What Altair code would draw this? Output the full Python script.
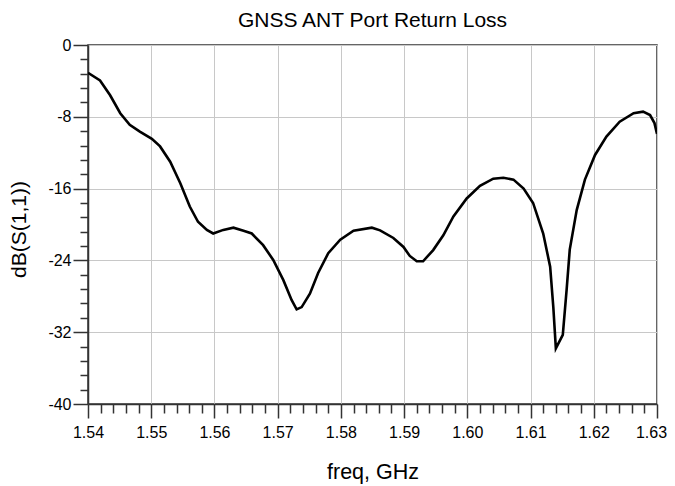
import altair as alt
import pandas as pd

freq_ghz = [1.5400, 1.5419, 1.5435, 1.5451, 1.5466, 1.5482, 1.5501, 1.5514, 1.5530, 1.5546,
            1.5561, 1.5574, 1.5588, 1.5598, 1.5614, 1.5630, 1.5646, 1.5659, 1.5677, 1.5693,
            1.5709, 1.5722, 1.5730, 1.5738, 1.5751, 1.5764, 1.5780, 1.5799, 1.5820, 1.5849,
            1.5862, 1.5883, 1.5899, 1.5909, 1.5920, 1.5930, 1.5946, 1.5962, 1.5978, 1.5999,
            1.6020, 1.6041, 1.6057, 1.6073, 1.6089, 1.6104, 1.6120, 1.6131, 1.6136, 1.6140,
            1.6151, 1.6157, 1.6162, 1.6173, 1.6186, 1.6202, 1.6220, 1.6241, 1.6263, 1.6278,
            1.6289, 1.6296, 1.6300]
s11_db = [-3.1, -3.95, -5.6, -7.6, -8.9, -9.66, -10.45, -11.3, -13.0, -15.4,
          -18.0, -19.7, -20.6, -21.0, -20.6, -20.35, -20.7, -21.0, -22.3, -23.95,
          -26.2, -28.4, -29.45, -29.2, -27.7, -25.4, -23.2, -21.7, -20.7, -20.35,
          -20.65, -21.5, -22.5, -23.5, -24.1, -24.1, -22.85, -21.2, -19.1, -17.1,
          -15.7, -14.9, -14.8, -15.0, -16.0, -17.6, -21.0, -24.7, -29.2, -33.8,
          -32.3, -27.3, -22.8, -18.4, -15.0, -12.25, -10.2, -8.55, -7.6, -7.43,
          -7.8, -8.7, -9.9]

x_major = [1.54, 1.55, 1.56, 1.57, 1.58, 1.59, 1.60, 1.61, 1.62, 1.63]
x_minor = [1.542, 1.544, 1.546, 1.548, 1.552, 1.554, 1.556, 1.558,
           1.562, 1.564, 1.566, 1.568, 1.572, 1.574, 1.576, 1.578,
           1.582, 1.584, 1.586, 1.588, 1.592, 1.594, 1.596, 1.598,
           1.602, 1.604, 1.606, 1.608, 1.612, 1.614, 1.616, 1.618,
           1.622, 1.624, 1.626, 1.628]
y_major = [0, -8, -16, -24, -32, -40]
y_minor = [-1.6, -3.2, -4.8, -6.4, -9.6, -11.2, -12.8, -14.4,
           -17.6, -19.2, -20.8, -22.4, -25.6, -27.2, -28.8, -30.4,
           -33.6, -35.2, -36.8, -38.4]

df = pd.DataFrame({"freq": freq_ghz, "db": s11_db})

FONT = "Liberation Sans"
AX = "#333333"

xscale = alt.Scale(domain=[1.54, 1.63], nice=False, zero=False)
yscale = alt.Scale(domain=[-40, 0], nice=False, zero=False)

main = alt.Chart(df).mark_line(color="black", strokeWidth=2.6, clip=True).encode(
    x=alt.X("freq:Q", scale=xscale, axis=alt.Axis(
        values=x_major, format=".2f", title="freq, GHz", grid=True, labelFlush=False,
        labelOffset={"condition": {"test": "datum.value > 1.629", "value": -6}, "value": 0},
        gridColor="#c8c8c8", gridWidth=1, tickSize=14, tickWidth=1.5, tickColor=AX,
        domainColor=AX, domainWidth=1.5, labelFont=FONT, labelFontSize=16,
        labelColor="black", labelPadding=6, titleFont=FONT, titleFontSize=21.5,
        titleFontWeight="normal", titleColor="black", titleY=74,
        titleBaseline="alphabetic", orient="bottom")),
    y=alt.Y("db:Q", scale=yscale, axis=alt.Axis(
        values=y_major, labelExpr="toString(datum.value)", title="dB(S(1,1))",
        grid=True, gridColor="#c8c8c8", gridWidth=1, tickSize=15, tickWidth=1.5,
        tickColor=AX, domainColor=AX, domainWidth=1.5, labelFont=FONT,
        labelFontSize=16, labelColor="black", labelPadding=2, titleFont=FONT,
        titleFontSize=21, titleFontWeight="normal", titleColor="black",
        titleX=-63, titleY=184, titleAngle=270, titleAlign="center",
        titleBaseline="alphabetic", orient="left")),
)

minor = alt.Chart(df).mark_line(strokeOpacity=0).encode(
    x=alt.X("freq:Q", scale=xscale, axis=alt.Axis(
        values=x_minor, labels=False, title=None, grid=False, domain=False,
        tickSize=9, tickWidth=1.5, tickColor=AX, orient="bottom")),
    y=alt.Y("db:Q", scale=yscale, axis=alt.Axis(
        values=y_minor, labels=False, title=None, grid=False, domain=False,
        tickSize=8, tickWidth=1.5, tickColor=AX, orient="left")),
)

chart = alt.layer(main, minor).resolve_axis(x="independent", y="independent").properties(
    width=569, height=359,
    autosize=alt.AutoSizeParams(type="none"),
    padding={"left": 80, "top": 37, "right": 10, "bottom": 80},
    title=alt.TitleParams("GNSS ANT Port Return Loss", font=FONT, fontSize=21,
                          fontWeight="normal", color="black", anchor="middle",
                          frame="group", offset=6),
).configure_view(stroke=AX, strokeWidth=1.5)

chart.save("out.html", embed_options={"renderer": "svg", "actions": False})
